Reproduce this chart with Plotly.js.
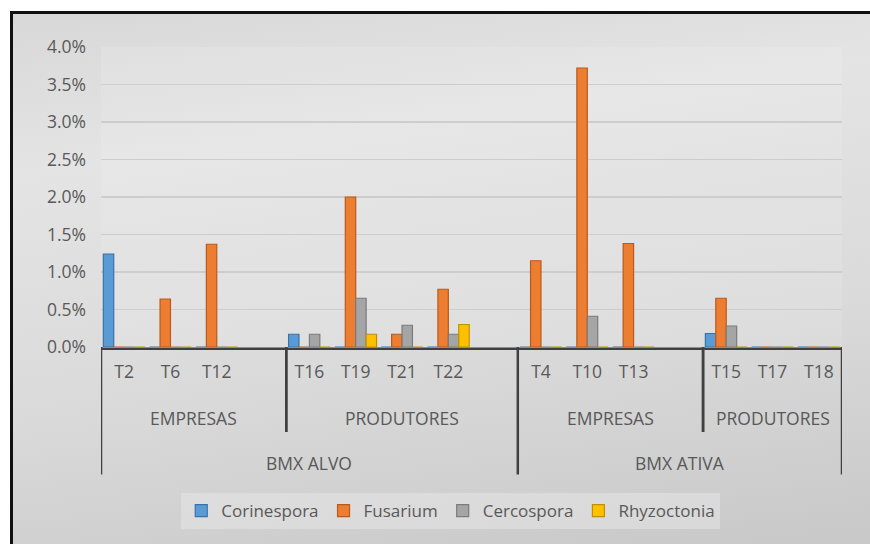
<!DOCTYPE html>
<html>
<head>
<meta charset="utf-8">
<script src="https://cdn.plot.ly/plotly-3.0.1.min.js"></script>
<style>
  html, body { margin: 0; padding: 0; background: #ffffff; }
  #frame {
    position: absolute; left: 10px; top: 11px; width: 860px; height: 533px;
    box-sizing: border-box;
    border-left: 3px solid #111; border-top: 3px solid #111;
    background: linear-gradient(172deg, #d8d8d8 0%, #e4e4e4 25%, #dadada 62%, #c8c8c8 100%);
  }
  #chart { position: absolute; left: 0; top: 0; width: 870px; height: 544px; }
</style>
</head>
<body>
<div id="frame"></div>
<div id="chart"></div>
<script>
// Category hierarchy: treatment -> group -> product
const categories = ['T2', 'T6', 'T12', 'T16', 'T19', 'T21', 'T22', 'T4', 'T10', 'T13', 'T15', 'T17', 'T18'];
const categoryGroup = [0, 0, 0, 1, 1, 1, 1, 2, 2, 2, 3, 3, 3];
const groups = ['EMPRESAS', 'PRODUTORES', 'EMPRESAS', 'PRODUTORES'];
const groupProduct = [0, 0, 1, 1];
const products = ['BMX ALVO', 'BMX ATIVA'];

// Incidence (%) per pathogen, same order as categories
const seriesNames = ['Corinespora', 'Fusarium', 'Cercospora', 'Rhyzoctonia'];
const corinespora = [1.24, 0, 0, 0.17, 0, 0, 0, 0, 0, 0, 0.18, 0, 0];
const fusarium    = [0, 0.64, 1.37, 0, 2.00, 0.17, 0.77, 1.15, 3.72, 1.38, 0.65, 0, 0];
const cercospora  = [0, 0, 0, 0.17, 0.65, 0.29, 0.17, 0, 0.41, 0, 0.28, 0, 0];
const rhyzoctonia = [0, 0, 0, 0, 0.17, 0, 0.30, 0, 0, 0, 0, 0, 0];
const yTicks = [0, 0.005, 0.01, 0.015, 0.02, 0.025, 0.03, 0.035, 0.04];

const fills  = ['#5b9bd5', '#ed7d31', '#a5a5a5', '#ffc000'];
const edges  = ['#3a72a8', '#b85a1c', '#7b7b7b', '#c08f00'];
const seriesValues = [corinespora, fusarium, cercospora, rhyzoctonia];

// Slot positions: an empty slot closes every group except the last one
const xPos = [];
let slot = 0;
categories.forEach((c, i) => {
  if (i > 0 && categoryGroup[i] !== categoryGroup[i - 1]) slot += 1;
  xPos.push(slot);
  slot += 1;
});
const lastSlot = xPos[xPos.length - 1];

// Span of each group on the slot axis
const groupSpans = groups.map((g, gi) => {
  const idx = xPos.filter((p, i) => categoryGroup[i] === gi);
  const start = idx[0] - 0.5;
  const end = idx[idx.length - 1] + 0.5 + (gi < groups.length - 1 ? 1 : 0);
  return [start, end];
});
const productSpans = products.map((p, pi) => {
  const spans = groupSpans.filter((s, gi) => groupProduct[gi] === pi);
  return [spans[0][0], spans[spans.length - 1][1]];
});

const traces = seriesNames.map((name, k) => ({
  type: 'bar',
  name: name,
  x: xPos,
  y: seriesValues[k].map(v => v / 100),
  marker: { color: fills[k], line: { color: edges[k], width: 1.2 } },
  hoverinfo: 'skip'
}));

const axisColor = '#404040';
const textColor = '#595959';
const font = 'Open Sans, Noto Sans, sans-serif';

const shapes = [];
const annotations = [];
const groupLabelY = -0.237;
const productLabelY = -0.387;
const shortDrop = -0.283;
const longDrop = -0.425;

// Dividers: product borders run through both label rows, group borders through one
const productEdges = new Set();
productSpans.forEach(s => { productEdges.add(s[0]); productEdges.add(s[1]); });
productEdges.forEach(x => shapes.push({
  type: 'line', xref: 'x', yref: 'paper', x0: x, x1: x, y0: 0, y1: longDrop,
  line: { color: axisColor, width: 2.5 }
}));
groupSpans.forEach(s => {
  [s[0], s[1]].forEach(x => {
    if (!productEdges.has(x)) shapes.push({
      type: 'line', xref: 'x', yref: 'paper', x0: x, x1: x, y0: 0, y1: shortDrop,
      line: { color: axisColor, width: 2.5 }
    });
  });
});
// Horizontal category axis line
shapes.push({
  type: 'line', xref: 'x', yref: 'paper', x0: -0.5, x1: lastSlot + 0.5, y0: -0.006, y1: -0.006,
  line: { color: axisColor, width: 2.5 }
});

groupSpans.forEach((s, gi) => annotations.push({
  xref: 'x', yref: 'paper', x: (s[0] + s[1]) / 2, y: groupLabelY,
  text: groups[gi], showarrow: false, xanchor: 'center', yanchor: 'middle',
  font: { family: font, size: 17.5, color: textColor }
}));
productSpans.forEach((s, pi) => annotations.push({
  xref: 'x', yref: 'paper', x: (s[0] + s[1]) / 2, y: productLabelY,
  text: products[pi], showarrow: false, xanchor: 'center', yanchor: 'middle',
  font: { family: font, size: 17.5, color: textColor }
}));

const layout = {
  width: 870, height: 544,
  margin: { l: 101, r: 28, t: 47, b: 197 },
  paper_bgcolor: 'rgba(0,0,0,0)',
  plot_bgcolor: 'rgba(255,255,255,0.12)',
  barmode: 'group',
  bargap: 0.1,
  bargroupgap: 0,
  showlegend: true,
  legend: {
    orientation: 'h', x: 0.472, xanchor: 'center', y: -0.487, yanchor: 'top',
    bgcolor: 'rgba(230,230,230,0.55)', borderwidth: 0,
    font: { family: font, size: 17, color: textColor },
    itemwidth: 30, itemclick: false, itemdoubleclick: false
  },
  xaxis: {
    range: [-0.5, lastSlot + 0.5],
    tickmode: 'array', tickvals: xPos, ticktext: categories,
    ticks: '', showgrid: false, zeroline: false, showline: false,
    ticklabelstandoff: 12,
    tickfont: { family: font, size: 17.5, color: textColor },
    fixedrange: true
  },
  yaxis: {
    range: [0, 0.04],
    tickmode: 'array', tickvals: yTicks, tickformat: '.1%',
    showgrid: true, gridcolor: '#cdcdcd', gridwidth: 1.3,
    zeroline: false, showline: false, ticks: '',
    ticklabelstandoff: 14,
    tickfont: { family: font, size: 17.5, color: textColor },
    fixedrange: true
  },
  shapes: shapes,
  annotations: annotations
};

Plotly.newPlot('chart', traces, layout, { displayModeBar: false, staticPlot: true });
</script>
</body>
</html>
